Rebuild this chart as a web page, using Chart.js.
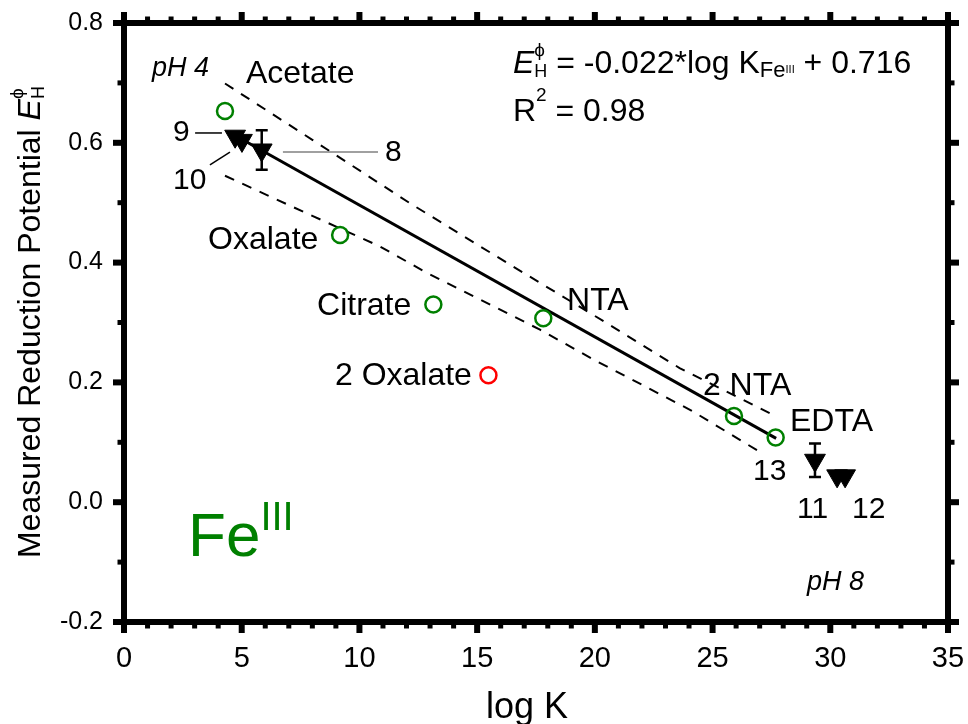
<!DOCTYPE html>
<html>
<head>
<meta charset="utf-8">
<title>Fe(III) complexes: reduction potential vs log K</title>
<script src="https://cdn.jsdelivr.net/npm/chart.js@4.4.1/dist/chart.umd.min.js"></script>
<style>
  html, body { margin: 0; padding: 0; background: #fff; }
  #feChart { display: block; }
</style>
</head>
<body>
<canvas id="feChart" width="968" height="724"></canvas>
<script>
// Fe(III) ligand complexes (green circles)
const ligandNames = ['Acetate', 'Oxalate', 'Citrate', 'NTA', '2 NTA', 'EDTA'];
const ligandLogK = [4.29, 9.18, 13.14, 17.81, 25.91, 27.68];
const ligandEh = [0.653, 0.446, 0.330, 0.307, 0.144, 0.108];

// bis-oxalate complex (red circle), left out of the fit
const oxalate2LogK = [15.48];
const oxalate2Eh = [0.212];

// numbered measurements (filled triangles); err = 0 means no error bar
const sampleIds = ['9', '10', '8', '11', '12', '12'];
const sampleLogK = [4.72, 5.01, 5.85, 29.35, 30.29, 30.63];
const sampleEh = [0.611, 0.604, 0.588, 0.070, 0.044, 0.044];
const sampleErr = [0, 0, 0.033, 0.028, 0, 0];

// linear fit, E = slope*logK + intercept, drawn over this logK range
const fitSlope = -0.022;
const fitIntercept = 0.716;
const fitR2 = 0.98;
const fitRange = [4.7, 27.7];

// dashed band around the fit
const bandUpperLogK = [4.29, 8.0, 12.15, 16.5, 20.0, 23.6, 27.72];
const bandUpperEh = [0.699, 0.605, 0.499, 0.394, 0.311, 0.224, 0.143];
const bandLowerLogK = [4.29, 8.0, 10.87, 12.86, 17.67, 20.0, 24.1, 27.09];
const bandLowerEh = [0.545, 0.478, 0.427, 0.383, 0.288, 0.237, 0.153, 0.082];

// axis ticks
const xTicks = [0, 1, 2, 3, 4, 5, 6, 7, 8, 9, 10, 11, 12, 13, 14, 15, 16, 17, 18, 19, 20,
  21, 22, 23, 24, 25, 26, 27, 28, 29, 30, 31, 32, 33, 34, 35];
const yTicks = [-0.2, -0.1, 0.0, 0.1, 0.2, 0.3, 0.4, 0.5, 0.6, 0.7, 0.8];

const pts = (xs, ys) => xs.map((x, i) => ({x: x, y: ys[i]}));

const FONT = '"Liberation Sans", Arial, sans-serif';
const GREEN = 'rgb(0,128,0)';

// text placed in data coordinates
const notes = [
  {text: 'pH 4', x: 1.19, y: 0.7115, size: 27, italic: true},
  {text: 'Acetate', x: 5.18, y: 0.700, size: 32},
  {text: '9', x: 2.08, y: 0.603, size: 30},
  {text: '10', x: 2.08, y: 0.523, size: 30},
  {text: '8', x: 11.09, y: 0.570, size: 30},
  {text: 'Oxalate', x: 3.57, y: 0.423, size: 32},
  {text: 'Citrate', x: 8.20, y: 0.3125, size: 32},
  {text: '2 Oxalate', x: 8.96, y: 0.196, size: 32},
  {text: 'NTA', x: 18.82, y: 0.321, size: 32},
  {text: '2 NTA', x: 24.59, y: 0.179, size: 32},
  {text: 'EDTA', x: 28.29, y: 0.119, size: 32},
  {text: '13', x: 26.72, y: 0.037, size: 30},
  {text: '11', x: 28.59, y: -0.026, size: 30},
  {text: '12', x: 30.92, y: -0.026, size: 30},
  {text: 'pH 8', x: 29.01, y: -0.1466, size: 27, italic: true}
];

// leader lines from numbers to markers
const leaders = [
  {from: [3.02, 0.6164], to: [4.16, 0.6164], color: '#000'},
  {from: [3.65, 0.563], to: [4.50, 0.5846], color: '#000'},
  {from: [6.75, 0.5846], to: [10.79, 0.5846], color: '#808080'}
];

function fnt(size, italic) {
  return (italic ? 'italic ' : '') + size + 'px ' + FONT;
}

// draw a list of text runs left to right; stacked runs share one x slot
function drawRuns(ctx, x, y, runs) {
  runs.forEach(r => {
    if (r.stack) {
      let w = 0;
      r.stack.forEach(s => {
        ctx.font = fnt(s.size, s.italic);
        ctx.fillText(s.text, x, y + s.dy);
        w = Math.max(w, ctx.measureText(s.text).width);
      });
      x += w;
    } else {
      ctx.font = fnt(r.size, r.italic);
      ctx.fillText(r.text, x, y + (r.dy || 0));
      x += ctx.measureText(r.text).width;
    }
  });
}

const decorations = {
  id: 'decorations',
  afterDatasetsDraw(chart) {
    const {ctx, chartArea: a, scales: {x, y}} = chart;
    ctx.save();

    // error bars
    ctx.strokeStyle = '#000';
    ctx.lineWidth = 2.5;
    sampleErr.forEach((e, i) => {
      if (!e) return;
      const px = x.getPixelForValue(sampleLogK[i]);
      const top = y.getPixelForValue(sampleEh[i] + e);
      const bot = y.getPixelForValue(sampleEh[i] - e);
      ctx.beginPath();
      ctx.moveTo(px, top); ctx.lineTo(px, bot);
      ctx.moveTo(px - 6, top); ctx.lineTo(px + 6, top);
      ctx.moveTo(px - 6, bot); ctx.lineTo(px + 6, bot);
      ctx.stroke();
    });

    // leader lines
    ctx.lineWidth = 1.5;
    leaders.forEach(l => {
      ctx.strokeStyle = l.color;
      ctx.beginPath();
      ctx.moveTo(x.getPixelForValue(l.from[0]), y.getPixelForValue(l.from[1]));
      ctx.lineTo(x.getPixelForValue(l.to[0]), y.getPixelForValue(l.to[1]));
      ctx.stroke();
    });

    // outward ticks on all four sides
    ctx.strokeStyle = '#000';
    const tick = (x1, y1, x2, y2, w) => {
      ctx.lineWidth = w;
      ctx.beginPath(); ctx.moveTo(x1, y1); ctx.lineTo(x2, y2); ctx.stroke();
    };
    xTicks.forEach(v => {
      const px = x.getPixelForValue(v);
      const major = v % 5 === 0;
      const len = major ? 11 : 6.5, w = major ? 6 : 5;
      tick(px, a.bottom, px, a.bottom + len, w);
      tick(px, a.top, px, a.top - len, w);
    });
    yTicks.forEach(v => {
      const py = y.getPixelForValue(v);
      const major = Math.round(v * 10) % 2 === 0;
      const len = major ? 11 : 6.5, w = major ? 6 : 5;
      tick(a.left, py, a.left - len, py, w);
      tick(a.right, py, a.right + len, py, w);
    });

    // frame
    ctx.lineWidth = 6;
    ctx.lineJoin = 'miter';
    ctx.strokeRect(a.left, a.top, a.right - a.left, a.bottom - a.top);
    ctx.restore();
  },
  afterDraw(chart) {
    const {ctx, scales: {x, y}} = chart;
    ctx.save();
    ctx.fillStyle = '#000';
    ctx.textAlign = 'left';
    ctx.textBaseline = 'alphabetic';

    notes.forEach(n => {
      ctx.font = fnt(n.size, n.italic);
      ctx.fillText(n.text, x.getPixelForValue(n.x), y.getPixelForValue(n.y));
    });

    // fit equation and R^2
    const ex = x.getPixelForValue(16.52);
    drawRuns(ctx, ex, y.getPixelForValue(0.7165), [
      {text: 'E', size: 32, italic: true},
      {stack: [{text: 'ϕ', size: 19, dy: -17}, {text: 'H', size: 18, dy: 4}]},
      {text: ' = ' + fitSlope.toFixed(3) + '*log K', size: 32},
      {text: 'Fe', size: 22, dy: 4},
      {text: 'III', size: 11, dy: 0},
      {text: ' + ' + fitIntercept.toFixed(3), size: 32}
    ]);
    drawRuns(ctx, ex, y.getPixelForValue(0.6364), [
      {text: 'R', size: 32},
      {text: '2', size: 19, dy: -20},
      {text: ' = ' + fitR2.toFixed(2), size: 32}
    ]);

    // Fe(III) tag
    ctx.fillStyle = GREEN;
    drawRuns(ctx, x.getPixelForValue(2.72), y.getPixelForValue(-0.0898), [
      {text: 'Fe', size: 62},
      {text: 'III', size: 40, dy: -26}
    ]);

    // axis titles
    ctx.fillStyle = '#000';
    ctx.font = fnt(36);
    ctx.textAlign = 'center';
    ctx.fillText('log K', 527, 718);

    ctx.textAlign = 'left';
    ctx.translate(40, 558);
    ctx.rotate(-Math.PI / 2);
    drawRuns(ctx, 0, 0, [
      {text: 'Measured Reduction Potential ', size: 32},
      {text: 'E', size: 32, italic: true},
      {stack: [{text: 'ϕ', size: 19, dy: -17}, {text: 'H', size: 18, dy: 4}]}
    ]);
    ctx.restore();
  }
};

new Chart(document.getElementById('feChart'), {
  type: 'scatter',
  data: {
    datasets: [
      {
        label: 'Samples',
        data: pts(sampleLogK, sampleEh),
        pointStyle: 'triangle',
        pointRotation: 180,
        pointRadius: 12,
        backgroundColor: '#000',
        borderColor: '#000',
        borderWidth: 1
      },
      {
        label: 'Ligands',
        data: pts(ligandLogK, ligandEh),
        pointStyle: 'circle',
        pointRadius: 8,
        borderWidth: 2.5,
        borderColor: GREEN,
        backgroundColor: 'rgba(0,0,0,0)'
      },
      {
        label: '2 Oxalate',
        data: pts(oxalate2LogK, oxalate2Eh),
        pointStyle: 'circle',
        pointRadius: 8,
        borderWidth: 2.5,
        borderColor: 'rgb(255,0,0)',
        backgroundColor: 'rgba(0,0,0,0)'
      },
      {
        label: 'Fit',
        data: fitRange.map(v => ({x: v, y: fitSlope * v + fitIntercept})),
        showLine: true,
        borderColor: '#000',
        borderWidth: 3,
        pointRadius: 0
      },
      {
        label: 'Band upper',
        data: pts(bandUpperLogK, bandUpperEh),
        showLine: true,
        borderColor: '#000',
        borderWidth: 2,
        borderDash: [10, 9],
        pointRadius: 0
      },
      {
        label: 'Band lower',
        data: pts(bandLowerLogK, bandLowerEh),
        showLine: true,
        borderColor: '#000',
        borderWidth: 2,
        borderDash: [10, 9],
        pointRadius: 0
      }
    ]
  },
  options: {
    responsive: false,
    animation: false,
    events: [],
    layout: {padding: {top: 23, right: 20, left: 0, bottom: 0}},
    plugins: {legend: {display: false}, tooltip: {enabled: false}},
    scales: {
      x: {
        type: 'linear',
        min: 0,
        max: 35,
        // label offset comes from tickLength; the marks themselves are drawn by the plugin
        grid: {display: false, drawTicks: true, tickLength: 20},
        border: {display: false},
        ticks: {stepSize: 5, color: '#000', padding: 0, font: {family: FONT, size: 29}},
        afterFit(s) { s.height = 102; }
      },
      y: {
        type: 'linear',
        min: -0.2,
        max: 0.8,
        grid: {display: false, drawTicks: true, tickLength: 21},
        border: {display: false},
        ticks: {
          stepSize: 0.2,
          color: '#000',
          padding: 0,
          font: {family: FONT, size: 25},
          callback: v => v.toFixed(1)
        },
        afterFit(s) { s.width = 124; }
      }
    }
  },
  plugins: [decorations]
});
</script>
</body>
</html>
